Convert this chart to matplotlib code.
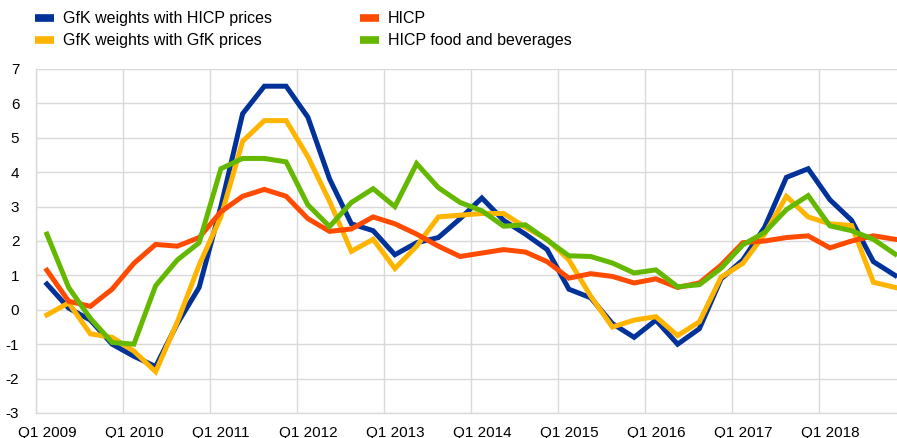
import matplotlib
matplotlib.use('Agg')
import matplotlib.pyplot as plt
import numpy as np

plt.rcParams['font.family'] = ['Liberation Sans', 'DejaVu Sans']
plt.rcParams['axes.unicode_minus'] = False

# quarterly data, Q1 2009 - Q4 2018
years = list(range(2009, 2019))
tick_labels = ['Q1 %d' % y for y in years]

gfk_hicp = [0.75, 0.05, -0.3, -1.0, -1.35, -1.65, -0.4, 0.65, 3.0, 5.7,
            6.5, 6.5, 5.6, 3.8, 2.5, 2.3, 1.6, 1.95, 2.1, 2.65,
            3.25, 2.6, 2.2, 1.75, 0.6, 0.35, -0.4, -0.8, -0.3, -1.0,
            -0.55, 0.9, 1.45, 2.4, 3.85, 4.1, 3.2, 2.6, 1.4, 1.0]
gfk_gfk = [-0.15, 0.2, -0.7, -0.8, -1.2, -1.8, -0.35, 1.3, 2.7, 4.9,
           5.5, 5.5, 4.45, 3.15, 1.7, 2.05, 1.2, 1.85, 2.7, 2.75,
           2.8, 2.8, 2.4, 2.05, 1.45, 0.4, -0.5, -0.3, -0.2, -0.75,
           -0.35, 0.95, 1.35, 2.2, 3.3, 2.7, 2.5, 2.45, 0.8, 0.65]
hicp = [1.15, 0.25, 0.1, 0.6, 1.35, 1.9, 1.85, 2.1, 2.85, 3.3,
        3.5, 3.3, 2.65, 2.28, 2.35, 2.7, 2.5, 2.2, 1.85, 1.55,
        1.65, 1.75, 1.68, 1.4, 0.92, 1.05, 0.97, 0.78, 0.9, 0.65,
        0.78, 1.3, 1.95, 2.0, 2.1, 2.15, 1.8, 2.0, 2.15, 2.05]
hicp_food = [2.2, 0.65, -0.25, -0.95, -1.0, 0.7, 1.45, 1.95, 4.1, 4.4,
             4.4, 4.3, 3.05, 2.42, 3.12, 3.52, 3.0, 4.25, 3.55, 3.12,
             2.88, 2.43, 2.47, 2.03, 1.57, 1.55, 1.36, 1.07, 1.16, 0.67,
             0.73, 1.21, 1.89, 2.25, 2.91, 3.32, 2.44, 2.3, 2.05, 1.62]

series = [
    ('GfK weights with HICP prices', gfk_hicp, '#003299'),
    ('GfK weights with GfK prices', gfk_gfk, '#FFB400'),
    ('HICP', hicp, '#FF4B00'),
    ('HICP food and beverages', hicp_food, '#65B800'),
]

fig = plt.figure(figsize=(8.97, 4.38), dpi=100)
# plot area runs a little past the right edge of the picture, as in the original
ax = fig.add_axes([36 / 897, 25 / 438, 870 / 897, 344 / 438])

x = np.arange(len(hicp))
handles = []
for label, vals, color in series:
    ln, = ax.plot(x, vals, color=color, linewidth=3.6, solid_joinstyle='miter',
                  label=label, zorder=3)
    handles.append(ln)

ax.set_xlim(-0.5, len(hicp) - 0.5)
ax.set_ylim(-3, 7)
ax.set_yticks(range(-3, 8))
ax.set_xticks(np.arange(0, len(hicp), 4))
ax.set_xticklabels(tick_labels)
ax.set_xticks(np.arange(-0.5, len(hicp), 4), minor=True)

ax.grid(axis='y', color='#d9d9d9', linewidth=1, zorder=0)
ax.grid(axis='x', which='minor', color='#d9d9d9', linewidth=1, zorder=0)
ax.tick_params(axis='both', which='both', length=0, labelsize=11, colors='black')
ax.tick_params(axis='x', pad=9)
ax.tick_params(axis='y', pad=12)
for s in ['top', 'right']:
    ax.spines[s].set_visible(False)
for s in ['left', 'bottom']:
    ax.spines[s].set_color('#d9d9d9')
    ax.spines[s].set_linewidth(1)

leg = fig.legend(handles, [s[0] for s in series],
                 ncol=2, loc='upper left', bbox_to_anchor=(0.027, 1.0),
                 frameon=False, fontsize=11.5, handlelength=1.15,
                 handletextpad=0.6, columnspacing=5.5, labelspacing=0.45,
                 borderaxespad=0.3)
for h in leg.legend_handles:
    h.set_linewidth(5.5)
    h.set_solid_capstyle('butt')

fig.savefig('out.png', dpi=100)
